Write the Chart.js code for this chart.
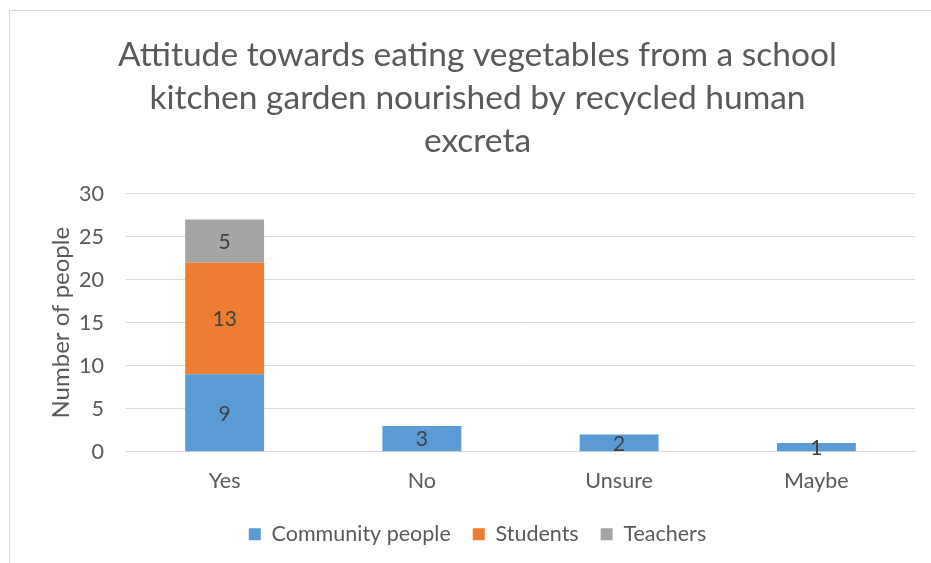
<!DOCTYPE html>
<html>
<head>
<meta charset="utf-8">
<script src="https://cdn.jsdelivr.net/npm/chart.js@4/dist/chart.umd.min.js"></script>
<style>
  html, body { margin: 0; padding: 0; background: #fff; }
  #wrap { position: relative; width: 931px; height: 563px; overflow: hidden; }
  #frame { position: absolute; left: 9px; top: 10px; width: 940px; height: 600px; border: 1px solid #d9d9d9; box-sizing: border-box; }
  #c { position: absolute; left: 0; top: 0; }
</style>
</head>
<body>
<div id="wrap">
  <div id="frame"></div>
  <canvas id="c" width="931" height="563"></canvas>
</div>
<script>
const titleLines = ["Attitude towards eating vegetables from a school", "kitchen garden nourished by recycled human", "excreta"];
const categories = ["Yes", "No", "Unsure", "Maybe"];
const communityPeople = [9, 3, 2, 1];
const students = [13, 0, 0, 0];
const teachers = [5, 0, 0, 0];
const yTicks = [0, 5, 10, 15, 20, 25, 30];
const yAxisTitle = "Number of people";

const FONT = "Lato, 'Open Sans', sans-serif";
const TXT = "#595959";
const LEGEND_SHIFT = 8;

const dataLabels = {
  id: 'dataLabels',
  afterDatasetsDraw(chart) {
    const ctx = chart.ctx;
    ctx.save();
    ctx.font = "21px " + FONT;
    ctx.fillStyle = "#404040";
    ctx.textAlign = "center";
    ctx.textBaseline = "middle";
    chart.data.datasets.forEach((ds, di) => {
      const meta = chart.getDatasetMeta(di);
      meta.data.forEach((el, i) => {
        const v = ds.data[i];
        if (!v) return;
        const yMid = (el.y + el.base) / 2;
        ctx.fillText(String(v), el.x, yMid + 1);
      });
    });
    ctx.restore();
  }
};

// keep wide horizontal legend spacing while tightening its vertical box
const legendTighten = {
  id: 'legendTighten',
  beforeLayout(chart) {
    const lg = chart.legend;
    if (!lg || lg._tightened) return;
    lg._tightened = true;
    const origFit = lg.fit.bind(lg);
    lg.fit = function () { origFit(); this.height -= LEGEND_SHIFT; };
    const origDraw = lg.draw.bind(lg);
    lg.draw = function (area) {
      const ctx = this.ctx;
      ctx.save();
      ctx.translate(0, -LEGEND_SHIFT);
      origDraw(area);
      ctx.restore();
    };
  }
};

new Chart(document.getElementById('c'), {
  type: 'bar',
  data: {
    labels: categories,
    datasets: [
      { label: "Community people", data: communityPeople, backgroundColor: "#5B9BD5" },
      { label: "Students", data: students, backgroundColor: "#ED7D31" },
      { label: "Teachers", data: teachers, backgroundColor: "#A5A5A5" }
    ]
  },
  options: {
    responsive: false,
    animation: false,
    devicePixelRatio: 1,
    layout: { padding: { left: 40, right: 16, top: 12, bottom: 8 } },
    datasets: { bar: { categoryPercentage: 1.0, barPercentage: 0.4 } },
    plugins: {
      title: {
        display: true,
        text: titleLines,
        color: TXT,
        font: { family: FONT, size: 33.5, weight: 'normal', lineHeight: 1.28 },
        padding: { top: 22, bottom: 31 }
      },
      legend: {
        position: 'bottom',
        labels: {
          color: TXT,
          font: { family: FONT, size: 21.5 },
          boxWidth: 12,
          boxHeight: 12,
          padding: 22
        }
      },
      tooltip: { enabled: false }
    },
    scales: {
      x: {
        stacked: true,
        grid: { display: false, drawTicks: false },
        border: { display: true, color: "#d9d9d9" },
        ticks: { color: TXT, font: { family: FONT, size: 21.5 }, padding: 16 }
      },
      y: {
        stacked: true,
        min: 0,
        max: 30,
        afterBuildTicks(axis) { axis.ticks = yTicks.map(v => ({ value: v })); },
        grid: { color: "#d9d9d9", drawTicks: false },
        border: { display: false },
        ticks: { color: TXT, font: { family: FONT, size: 21.5 }, padding: 22 },
        title: {
          display: true,
          text: yAxisTitle,
          color: TXT,
          font: { family: FONT, size: 24 },
          padding: { top: 7, bottom: 10 }
        },
        afterFit(axis) { axis.width = 86; }
      }
    }
  },
  plugins: [dataLabels, legendTighten]
});
</script>
</body>
</html>
